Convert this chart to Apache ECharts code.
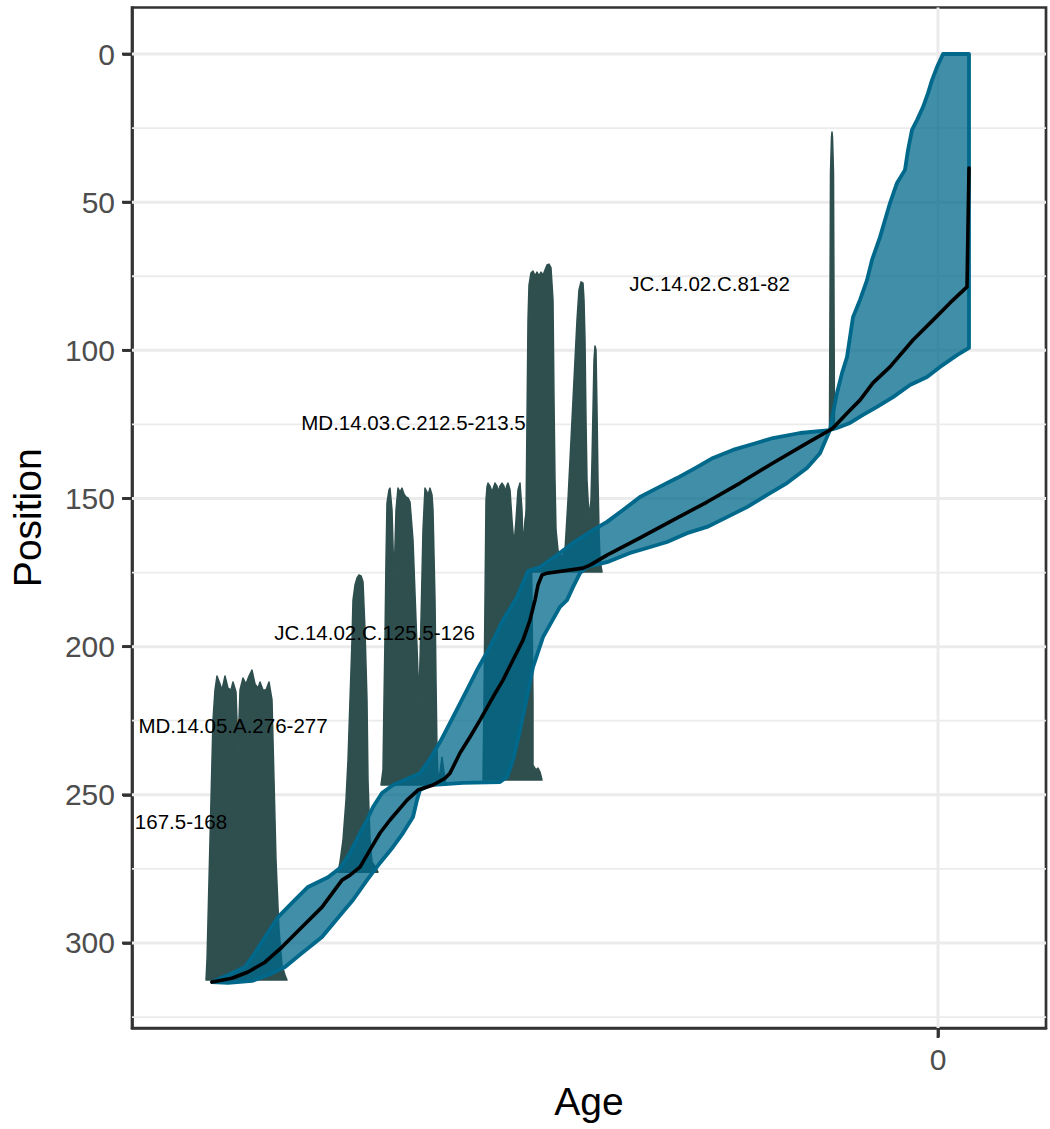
<!DOCTYPE html>
<html>
<head>
<meta charset="utf-8">
<script src="https://cdn.jsdelivr.net/npm/echarts@6/dist/echarts.min.js"></script>
<style>html,body{margin:0;padding:0;background:#fff}#chart{width:1050px;height:1129px}</style>
</head>
<body>
<div id="chart"></div>
<script>
// ---------- axis breaks ----------
const yMajorBreaks = [0, 50, 100, 150, 200, 250, 300];
const yMinorBreaks = [25, 75, 125, 175, 225, 275, 325];
const xBreaks = [0];

// ---------- 95% age range of the age-depth model: [age, position] ----------
const rangeOld = [[-10,0],[2,4.4],[12,8.8],[20,13.2],[30,17.9],[42,22.3],[52,25.6],[60,32.4],[66,39.1],[82,43.5],[96,50.3],[106,56.0],[116,61.8],[132,69.5],[142,76.3],[156,83.0],[170,88.8],[176,95.5],[182,102.3],[192,107.7],[202,114.4],[210,121.2],[216,126.9],[276,127.9],[330,129.6],[370,131.6],[410,133.6],[450,136.3],[482,139.4],[522,143.1],[562,146.5],[596,149.5],[630,153.9],[662,157.9],[696,161.3],[730,165.0],[762,169.1],[796,173.1],[820,174.5],[842,183.3],[870,191.0],[896,200.1],[922,207.9],[942,214.6],[970,223.8],[996,232.2],[1016,237.9],[1036,242.7],[1062,244.7],[1090,246.7],[1112,249.4],[1130,254.1],[1142,258.5],[1156,262.9],[1176,269.7],[1196,274.7],[1220,277.8],[1260,281.1],[1292,286.5],[1320,291.3],[1346,298.0],[1366,303.4],[1386,308.1],[1420,310.8],[1452,313.2]];
const rangeYoung = [[-62,0],[-62,99.2],[-38,101.6],[-4,105.6],[22,109.0],[56,111.7],[90,115.8],[122,119.1],[150,121.8],[176,124.5],[202,126.2],[216,126.9],[236,134.7],[262,139.7],[302,144.8],[336,148.2],[382,152.9],[422,156.3],[462,159.6],[502,161.7],[542,164.7],[582,166.7],[616,168.4],[662,171.5],[702,173.1],[716,175.2],[730,179.9],[742,184.3],[756,186.6],[790,196.8],[810,206.9],[822,217.0],[836,228.2],[850,238.3],[862,244.0],[876,245.7],[950,246.0],[1016,246.7],[1036,248.4],[1042,251.8],[1050,257.5],[1070,262.9],[1090,267.6],[1116,273.0],[1142,278.8],[1170,285.5],[1192,289.9],[1232,298.0],[1272,303.4],[1306,308.1],[1340,310.8],[1372,312.8],[1420,313.5],[1452,313.2]];

// ---------- mean age: [age, position] ----------
const meanAge = [[-62,38.5],[-58,78.6],[-24,84.0],[10,89.8],[50,96.5],[96,105.6],[130,111.0],[156,116.8],[182,121.2],[210,126.2],[216,126.9],[262,131.3],[330,138.0],[396,144.8],[462,151.2],[530,157.3],[596,163.3],[662,169.1],[696,172.5],[710,173.5],[782,175.2],[792,175.8],[800,179.2],[806,184.3],[816,191.0],[830,197.8],[850,204.5],[870,211.3],[890,217.0],[916,224.8],[936,230.5],[956,235.9],[976,242.7],[986,244.4],[1010,246.7],[1040,248.4],[1062,251.8],[1096,258.5],[1116,262.9],[1136,268.6],[1156,274.4],[1176,277.1],[1192,278.8],[1232,287.9],[1272,294.6],[1312,301.4],[1346,306.5],[1380,309.8],[1412,311.9],[1452,313.2]];

// ---------- calibrated date densities: outline [age, top position], starting/ending at the date depth ----------
const densA = [[1464,312.5],[1462,305.8],[1458,278.8],[1454,251.8],[1450,224.8],[1446,214.6],[1442,209.9],[1436,212.6],[1432,214.6],[1426,209.9],[1420,214.0],[1414,214.6],[1410,211.9],[1404,215.3],[1400,234.9],[1396,214.6],[1390,210.6],[1384,212.6],[1378,209.9],[1372,207.9],[1366,212.6],[1360,214.0],[1356,211.9],[1350,214.6],[1344,214.6],[1338,211.9],[1332,218.0],[1328,245.0],[1324,272.0],[1318,295.6],[1312,307.5],[1306,310.8],[1302,312.5]];
const densB = [[1200,276.1],[1196,272.7],[1190,265.2],[1184,251.8],[1180,238.3],[1176,218.0],[1172,197.8],[1170,184.3],[1166,179.2],[1162,176.8],[1158,175.8],[1154,176.1],[1150,178.1],[1146,194.4],[1142,218.0],[1140,245.0],[1136,265.2],[1132,272.7],[1126,274.1],[1120,276.1]];
const densC = [[1114,246.7],[1110,241.6],[1108,218.0],[1106,196.8],[1104,170.8],[1102,151.5],[1098,147.1],[1096,146.5],[1092,153.9],[1088,177.5],[1084,153.9],[1080,146.5],[1076,147.8],[1072,146.5],[1068,148.5],[1064,149.5],[1060,149.8],[1056,151.2],[1050,164.0],[1044,191.0],[1038,218.0],[1034,191.0],[1030,160.6],[1026,146.5],[1022,147.8],[1020,148.8],[1016,146.5],[1012,148.8],[1010,153.9],[1006,184.3],[1004,211.3],[1002,234.9],[1000,244.3],[996,242.3],[992,237.3],[988,242.3],[984,246.7]];
const densD = [[910,245.0],[908,218.0],[906,184.3],[904,150.5],[902,146.1],[900,144.8],[896,145.8],[892,147.8],[888,145.8],[886,144.8],[882,145.8],[880,147.8],[876,145.8],[872,144.8],[868,145.8],[866,147.8],[862,145.5],[860,144.8],[856,147.1],[852,157.3],[848,165.7],[844,157.3],[840,147.1],[836,144.8],[832,153.9],[830,166.4],[826,157.3],[820,150.5],[814,157.3],[812,184.3],[810,218.0],[810,240.0],[804,241.6],[800,241.0],[796,242.3],[792,245.0]];
const densE = [[826,174.8],[824,157.3],[822,123.5],[820,89.8],[818,78.0],[814,73.9],[810,73.2],[806,74.9],[802,73.6],[798,74.9],[794,73.6],[790,74.6],[786,72.9],[782,71.2],[778,70.9],[774,72.2],[770,83.0],[768,116.8],[766,143.8],[764,160.6],[760,167.4],[756,169.4],[750,169.1],[746,167.4],[740,150.5],[734,130.3],[728,110.0],[722,89.8],[718,79.6],[714,76.9],[710,77.3],[708,83.0],[706,96.5],[704,123.5],[702,143.8],[698,156.3],[694,150.5],[692,137.0],[690,120.1],[688,103.3],[686,98.5],[684,99.9],[682,120.1],[680,143.8],[678,160.6],[676,170.8],[672,174.8]];
const densF = [[217,126.2],[215,40.0],[213,28.0],[212,26.3],[211,28.0],[209,40.0],[207,126.2]];
const densities = [densA, densB, densC, densD, densE, densF];

// ---------- date labels ----------
const labelTexts = ['JC.14.02.C.81-82', 'MD.14.03.C.212.5-213.5', 'JC.14.02.C.125.5-126', 'MD.14.05.A.276-277', '167.5-168'];
const labelAges = [457, 1049, 1127, 1410, 1514];
const labelPositions = [77.3, 124.2, 195.1, 226.5, 258.9];

// ---------- chart ----------
const FONT = "'Liberation Sans', Arial, Helvetica, sans-serif";
const X_MIN = -216, X_MAX = 1612, Y_MIN = -15.7, Y_MAX = 328.7;
const chart = echarts.init(document.getElementById('chart'), null, {renderer: 'svg'});

function renderGrid(params, api) {
  const cs = params.coordSys;
  const children = [];
  const hLine = (v, w) => {
    const p = api.coord([0, v]);
    if (p[1] > cs.y && p[1] < cs.y + cs.height) {
      children.push({type: 'line', shape: {x1: cs.x, y1: p[1], x2: cs.x + cs.width, y2: p[1]},
        style: {stroke: '#EBEBEB', lineWidth: w}});
    }
  };
  const vLine = (v, w) => {
    const p = api.coord([v, 0]);
    if (p[0] > cs.x && p[0] < cs.x + cs.width) {
      children.push({type: 'line', shape: {x1: p[0], y1: cs.y, x2: p[0], y2: cs.y + cs.height},
        style: {stroke: '#EBEBEB', lineWidth: w}});
    }
  };
  yMinorBreaks.forEach(v => hLine(v, 1.8));
  yMajorBreaks.forEach(v => hLine(v, 3));
  xBreaks.forEach(v => vLine(v, 3));
  return {type: 'group', children};
}

const option = {
  animation: false,
  backgroundColor: '#ffffff',
  grid: {left: 132, right: 4, top: 7.5, bottom: 101, show: true, borderColor: '#333333', borderWidth: 2.7, backgroundColor: '#ffffff'},
  xAxis: {
    type: 'value', inverse: true, min: X_MIN, max: X_MAX, position: 'bottom',
    name: 'Age', nameLocation: 'middle', nameGap: 54,
    nameTextStyle: {fontSize: 39, color: '#000000', fontFamily: FONT},
    axisLine: {show: true, onZero: false, lineStyle: {color: '#333333', width: 2.7}},
    axisTick: {show: true, customValues: xBreaks, length: 9, lineStyle: {color: '#333333', width: 2.7}},
    axisLabel: {customValues: xBreaks, fontSize: 30, color: '#4D4D4D', fontFamily: FONT, margin: 16},
    splitLine: {show: false}
  },
  yAxis: {
    type: 'value', inverse: true, min: Y_MIN, max: Y_MAX, position: 'left',
    name: 'Position', nameLocation: 'middle', nameGap: 85,
    nameTextStyle: {fontSize: 39, color: '#000000', fontFamily: FONT},
    axisLine: {show: true, onZero: false, lineStyle: {color: '#333333', width: 2.7}},
    axisTick: {show: true, customValues: yMajorBreaks, length: 9, lineStyle: {color: '#333333', width: 2.7}},
    axisLabel: {customValues: yMajorBreaks, fontSize: 30, color: '#4D4D4D', fontFamily: FONT, margin: 17},
    splitLine: {show: false}
  },
  series: [
    {
      type: 'custom', name: 'grid', silent: true, z: 1,
      data: [[0, 0]],
      renderItem: renderGrid
    },
    {
      type: 'custom', name: 'densities', silent: true, z: 2,
      data: densities.map((d, i) => [d[0][0], d[0][1], i]),
      renderItem: (params, api) => {
        const d = densities[api.value(2)];
        return {type: 'polygon', shape: {points: d.map(p => api.coord(p))},
          style: {fill: '#2F4F4F', stroke: '#2F4F4F', lineWidth: 1.5, lineJoin: 'round'}};
      }
    },
    {
      type: 'custom', name: 'range', silent: true, z: 3,
      data: [[rangeOld[0][0], rangeOld[0][1]]],
      renderItem: (params, api) => {
        const pts = rangeOld.concat(rangeYoung.slice().reverse()).map(p => api.coord(p));
        return {type: 'polygon', shape: {points: pts},
          style: {fill: 'rgba(0,104,139,0.75)', stroke: '#00688B', lineWidth: 3.8, lineJoin: 'round'}};
      }
    },
    {
      type: 'line', name: 'mean', z: 4, silent: true,
      data: meanAge, showSymbol: false, symbol: 'none',
      lineStyle: {color: '#000000', width: 3.6, join: 'round', cap: 'round'}
    },
    {
      type: 'custom', name: 'labels', silent: true, z: 5,
      data: labelTexts.map((t, i) => [labelAges[i], labelPositions[i], i]),
      renderItem: (params, api) => {
        const i = api.value(2);
        const p = api.coord([labelAges[i], labelPositions[i]]);
        return {type: 'text', style: {text: labelTexts[i], x: p[0], y: p[1], fill: '#000000',
          fontSize: 20.5, fontFamily: FONT, align: 'center', verticalAlign: 'middle'}};
      }
    }
  ]
};
chart.setOption(option);

// axis tick marks placed through the chart's own scales (drawn as rectangles)
const leftPx = chart.convertToPixel({xAxisIndex: 0}, X_MAX);
const bottomPx = chart.convertToPixel({yAxisIndex: 0}, Y_MAX);
const tickEls = [];
yMajorBreaks.forEach(v => {
  const y = chart.convertToPixel({yAxisIndex: 0}, v);
  tickEls.push({type: 'rect', z: 100, silent: true,
    shape: {x: leftPx - 10, y: y - 1.4, width: 10, height: 2.8},
    style: {fill: '#333333'}});
});
xBreaks.forEach(v => {
  const x = chart.convertToPixel({xAxisIndex: 0}, v);
  tickEls.push({type: 'rect', z: 100, silent: true,
    shape: {x: x - 1.4, y: bottomPx, width: 2.8, height: 10},
    style: {fill: '#333333'}});
});
chart.setOption({graphic: {elements: tickEls}});
</script>
</body>
</html>
